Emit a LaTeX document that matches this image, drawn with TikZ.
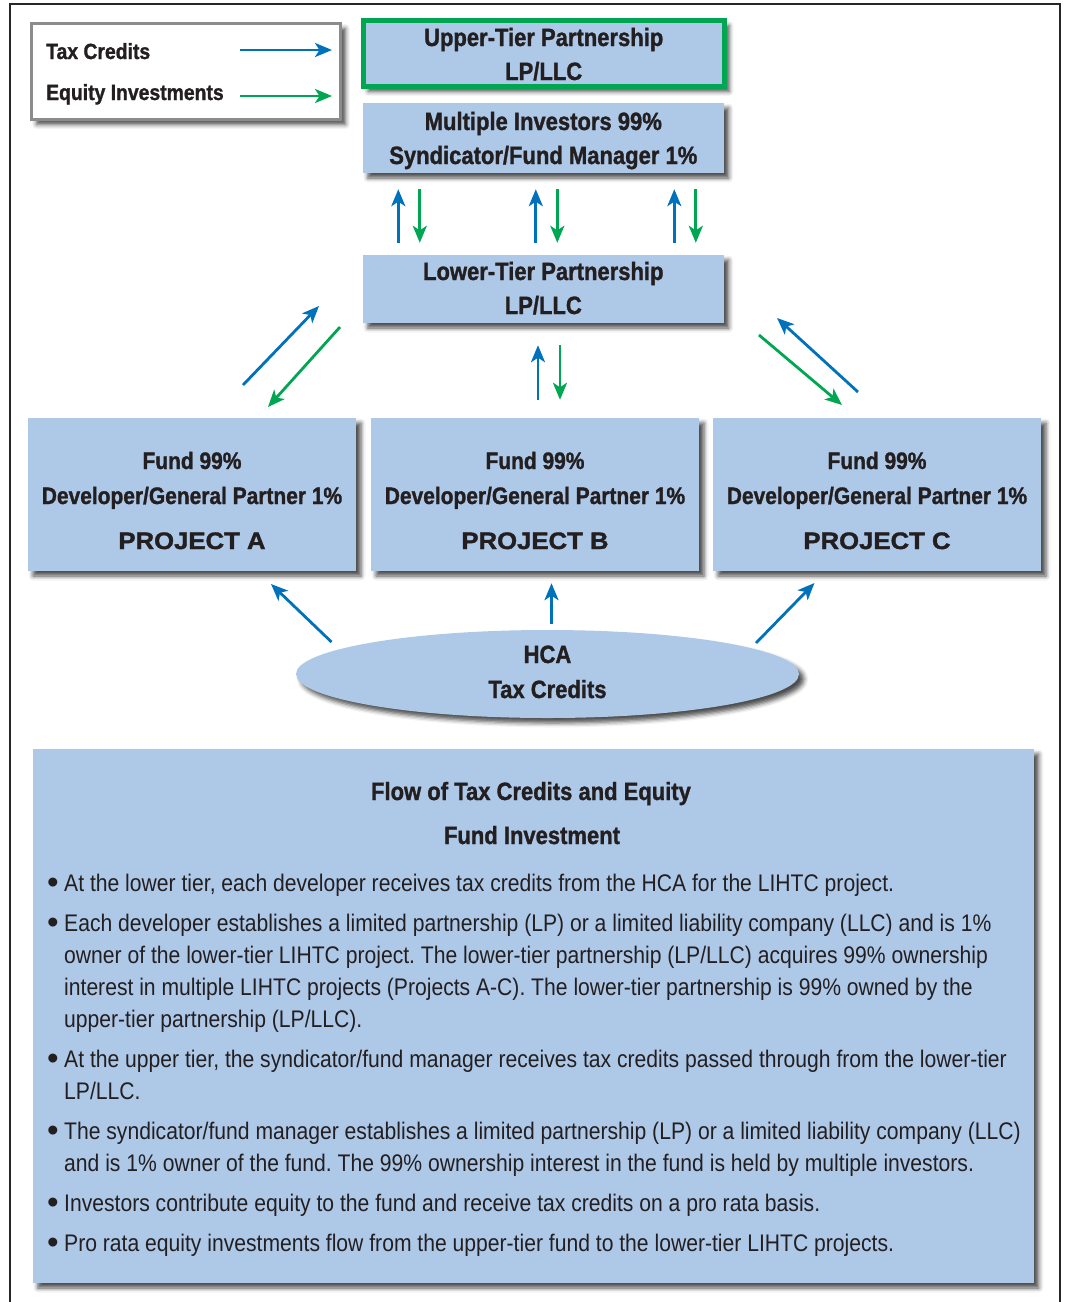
\documentclass[tikz,border=0pt]{standalone}
\usepackage{fontspec}
\setmainfont{Liberation Sans}[FakeStretch=0.88, BoldFeatures={FakeBold=1.2}]
\newfontfamily\widefont{Liberation Sans}[FakeStretch=1.08, BoldFeatures={FakeBold=1.5}]
\newfontfamily\plainfont{Liberation Sans}
\usetikzlibrary{arrows.meta,shapes.geometric,shadows.blur,calc}
\definecolor{boxblue}{RGB}{174,200,232}
\definecolor{tcblue}{RGB}{0,114,188}
\definecolor{eqgreen}{RGB}{0,166,81}
\definecolor{ink}{RGB}{35,31,32}
\frenchspacing
\newcommand\bulmark{\makebox[17pt][l]{\raisebox{-2.6pt}{\plainfont\fontsize{33}{32}\selectfont •}}}
\newcommand\contind{\hspace*{17pt}}
\tikzset{
  shad/.style={blur shadow={shadow xshift=5pt, shadow yshift=-5pt, shadow blur radius=4.5pt, shadow opacity=70}},
  bbox/.style={rectangle, fill=boxblue, shad, inner sep=0pt, align=center, text=ink,
    font=\bfseries\fontsize{25}{34}\selectfont},
  pbox/.style={rectangle, fill=boxblue, shad, inner sep=0pt, align=center, text=ink,
    minimum width=328pt, minimum height=153pt, font=\bfseries\fontsize{23.8}{35}\selectfont},
  tcarrow/.style={draw=tcblue, line width=2.8pt, -{Stealth[length=17pt,width=14pt,inset=4.5pt]}},
  eqarrow/.style={draw=eqgreen, line width=2.8pt, -{Stealth[length=17pt,width=14pt,inset=4.5pt]}},
  lbl/.style={inner sep=0pt, text=ink}
}
\begin{document}
\begin{tikzpicture}[x=1pt,y=-1pt]
\useasboundingbox (0,0) rectangle (1065,1302);
% outer frame (open at bottom)
\draw[line width=2pt, draw=black!85] (9.5,1302) -- (9.5,4) -- (1060,4) -- (1060,1302);

% legend
\node[rectangle, fill=white, draw=black!45, line width=3pt, shad,
      minimum width=309pt, minimum height=96pt] (leg) at (186,71.5) {};
\node[lbl, anchor=base west, font=\bfseries\fontsize{22}{26}\selectfont] (legtc) at (46,59) {Tax Credits};
\node[lbl, anchor=base west, font=\bfseries\fontsize{22}{26}\selectfont] (legeq) at (46,100) {Equity Investments};
\coordinate (ltca) at (240,50);  \coordinate (ltcb) at (332,50);
\coordinate (leqa) at (240,96);  \coordinate (leqb) at (332,96);
\draw[tcarrow] (ltca) -- (ltcb);
\draw[eqarrow] (leqa) -- (leqb);

% upper tier boxes
\node[bbox, draw=eqgreen, line width=5pt, minimum width=361pt, minimum height=66pt] (ut) at (543.7,53.5)
  {\rule{0pt}{20pt}Upper-Tier Partnership\\LP/LLC\rule[-1pt]{0pt}{1pt}};
\node[bbox, minimum width=361pt, minimum height=70pt] (mi) at (543.3,138)
  {\rule{0pt}{24pt}Multiple Investors 99\%\\Syndicator/Fund Manager 1\%\rule[-6pt]{0pt}{6pt}};
\node[bbox, minimum width=361pt, minimum height=68pt] (lt) at (543.3,289)
  {\rule{0pt}{20pt}Lower-Tier Partnership\\LP/LLC\rule[-4pt]{0pt}{4pt}};

% arrows between upper and lower tier
\foreach \dx in {-145,-7.5,131}{
  \draw[tcarrow, shorten <=12pt, shorten >=16pt] ([xshift=\dx pt]lt.north) -- ([xshift=\dx pt]mi.south);
  \draw[eqarrow, shorten <=16pt, shorten >=12pt] ([xshift=\dx pt+21.5pt]mi.south) -- ([xshift=\dx pt+21.5pt]lt.north);
}

% projects
\node[pbox] (pa) at (192,494.5)
  {\rule{0pt}{30pt}Fund 99\%\\Developer/General Partner 1\%\\[10pt]{\widefont PROJECT A}\rule[-1pt]{0pt}{1pt}};
\node[pbox] (pb) at (535,494.5)
  {\rule{0pt}{30pt}Fund 99\%\\Developer/General Partner 1\%\\[10pt]{\widefont PROJECT B}\rule[-1pt]{0pt}{1pt}};
\node[pbox] (pc) at (877,494.5)
  {\rule{0pt}{30pt}Fund 99\%\\Developer/General Partner 1\%\\[10pt]{\widefont PROJECT C}\rule[-1pt]{0pt}{1pt}};

% arrows between lower tier and projects
\coordinate (la1) at (243,385); \coordinate (la2) at (319,306);
\coordinate (la3) at (340,327); \coordinate (la4) at (268,407);
\draw[tcarrow] (la1) -- (la2);
\draw[eqarrow] (la3) -- (la4);
\draw[tcarrow, shorten <=18pt, shorten >=22pt] ([xshift=-5.3pt]pb.north -| lt.south) -- ([xshift=-5.3pt]lt.south);
\draw[eqarrow, shorten <=22pt, shorten >=18pt] ([xshift=16.7pt]lt.south) -- ([xshift=16.7pt]lt.south |- pb.north);
\coordinate (lc1) at (858,392); \coordinate (lc2) at (777,318);
\coordinate (lc3) at (759,335); \coordinate (lc4) at (842,405);
\draw[tcarrow] (lc1) -- (lc2);
\draw[eqarrow] (lc3) -- (lc4);

% HCA
\node[ellipse, fill=boxblue, shad, minimum width=503pt, minimum height=88pt, inner sep=0pt,
      align=center, text=ink, font=\bfseries\fontsize{25}{35}\selectfont] (hca) at (547.5,674)
  {\rule{0pt}{20pt}HCA\\Tax Credits\rule[-7pt]{0pt}{7pt}};
\coordinate (ha1) at (331.5,642); \coordinate (ha2) at (271,584);
\coordinate (hc1) at (756,643);   \coordinate (hc2) at (814.5,583);
\draw[tcarrow] (ha1) -- (ha2);
\draw[tcarrow, shorten <=6pt, shorten >=12pt] ([xshift=4pt]hca.north) -- ([xshift=4pt]hca.north |- pb.south);
\draw[tcarrow] (hc1) -- (hc2);

% explanation panel
\node[rectangle, fill=boxblue, shad, minimum width=1001pt, minimum height=534pt, inner sep=0pt] (panel) at (533.3,1016) {};
\node[lbl, anchor=base, font=\bfseries\fontsize{25}{30}\selectfont] (t1) at (531,800) {Flow of Tax Credits and Equity};
\node[lbl, anchor=base, font=\bfseries\fontsize{25}{30}\selectfont] (t2) at (532,844) {Fund Investment};
\node[lbl, anchor=north west, align=left, font=\fontsize{24}{32}\selectfont] (body) at (47,871) {%
\rule{0pt}{20pt}\bulmark At the lower tier, each developer receives tax credits from the HCA for the LIHTC project.\\[8pt]
\bulmark Each developer establishes a limited partnership (LP) or a limited liability company (LLC) and is 1\%\\
\contind owner of the lower-tier LIHTC project. The lower-tier partnership (LP/LLC) acquires 99\% ownership\\
\contind interest in multiple LIHTC projects (Projects A-C). The lower-tier partnership is 99\% owned by the\\
\contind upper-tier partnership (LP/LLC).\\[8pt]
\bulmark At the upper tier, the syndicator/fund manager receives tax credits passed through from the lower-tier\\
\contind LP/LLC.\\[8pt]
\bulmark The syndicator/fund manager establishes a limited partnership (LP) or a limited liability company (LLC)\\
\contind and is 1\% owner of the fund. The 99\% ownership interest in the fund is held by multiple investors.\\[8pt]
\bulmark Investors contribute equity to the fund and receive tax credits on a pro rata basis.\\[8pt]
\bulmark Pro rata equity investments flow from the upper-tier fund to the lower-tier LIHTC projects.};
\end{tikzpicture}
\end{document}
